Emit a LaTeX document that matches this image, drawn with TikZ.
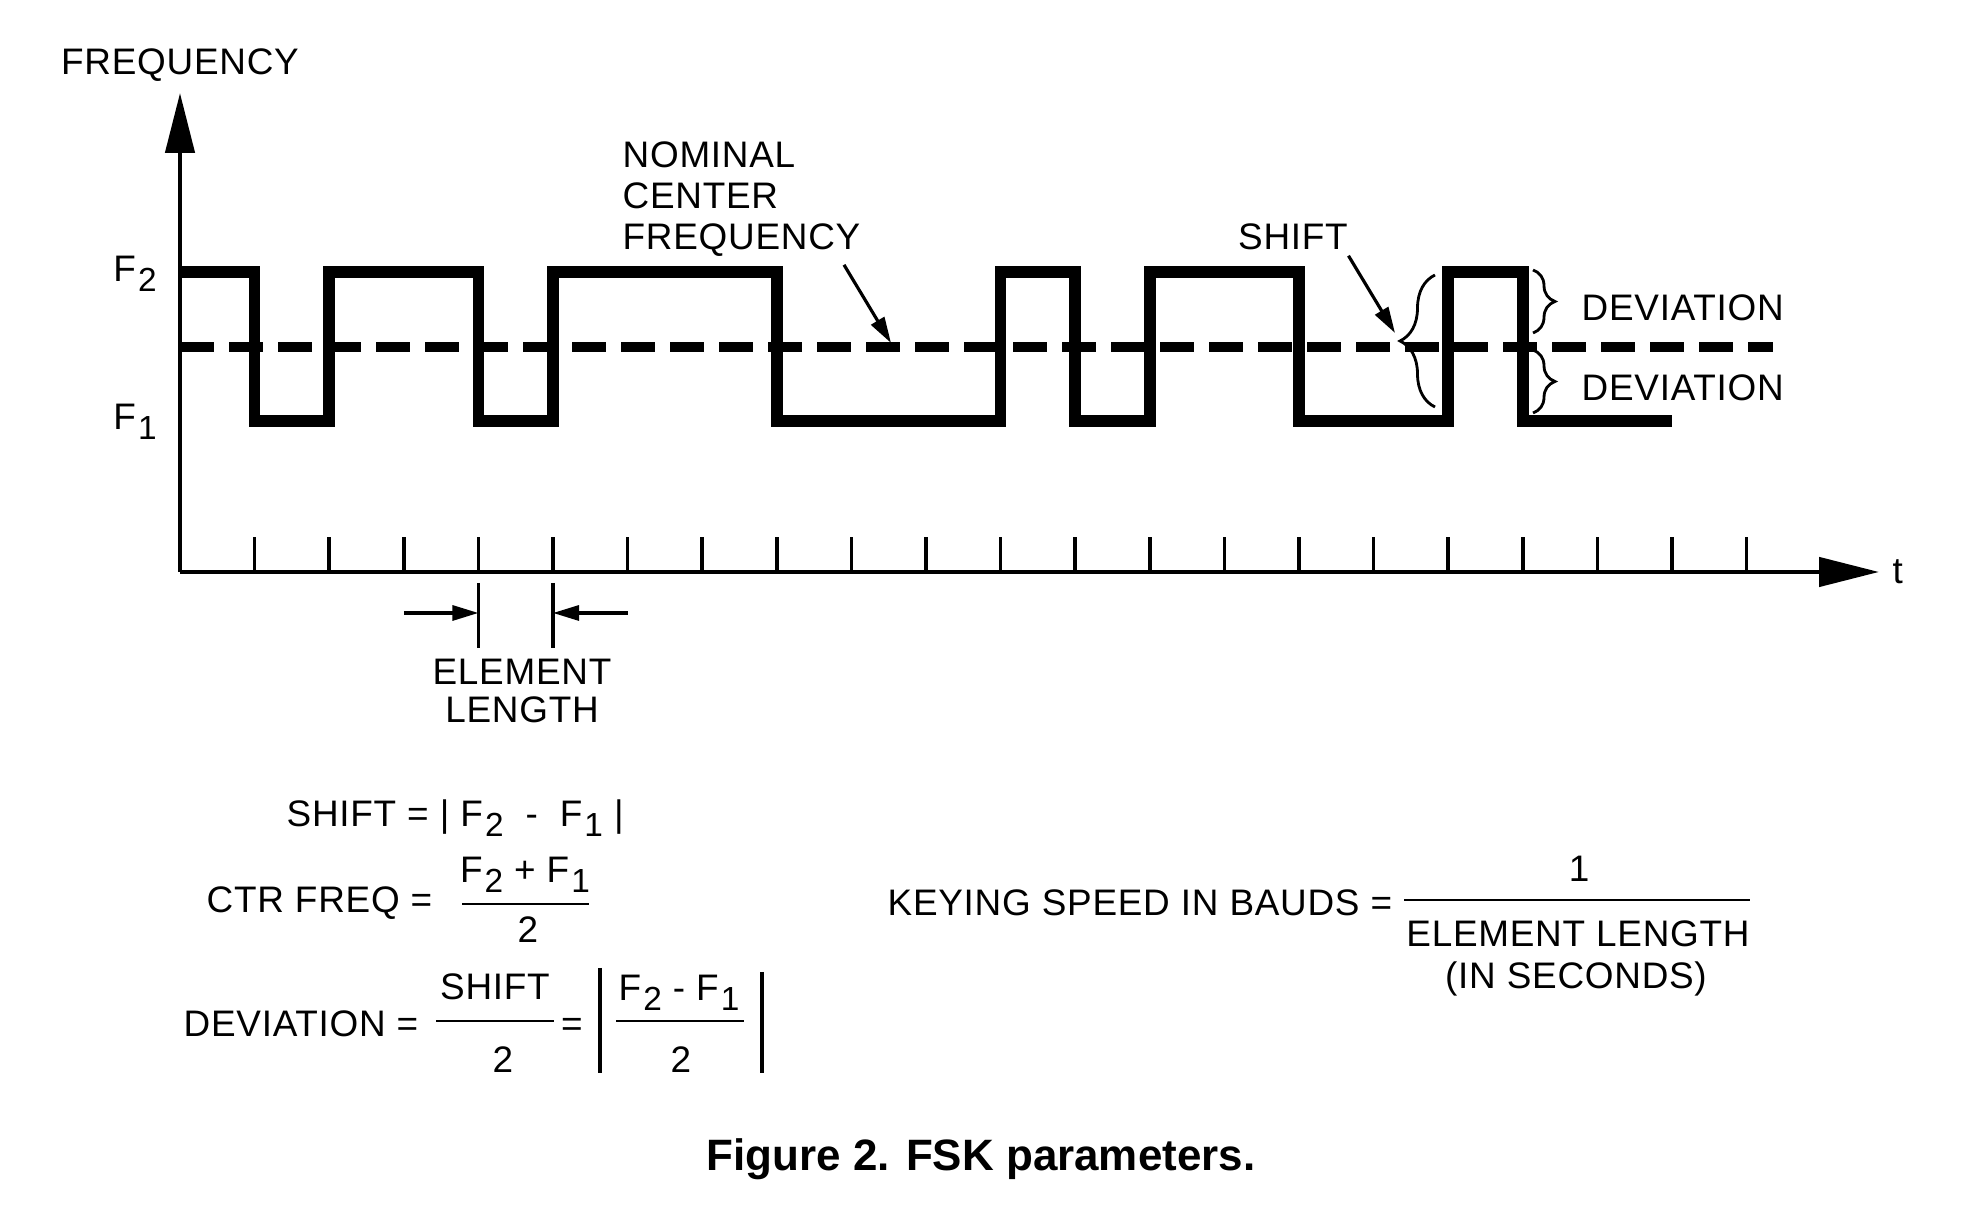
\documentclass[tikz,border=0pt]{standalone}
\usepackage{fontspec}
\setmainfont{Liberation Sans}[LetterSpace=2]
\newfontfamily\capfont{Liberation Sans}
\usetikzlibrary{arrows.meta,decorations.pathreplacing}
\newcommand{\Fsub}[1]{F\kern0.6pt\raisebox{-0.5ex}{\fontsize{9.5}{9.5}\selectfont #1}}

\begin{document}
\begin{tikzpicture}[
  every node/.style={font=\fontsize{10.5}{11.6}\selectfont, inner sep=0pt},
  fskwave/.style={line width=3.3pt},
  midline/.style={line width=2.8pt, dash pattern=on 3.4mm off 1.5mm},
  axisline/.style={line width=1.3pt, -{Triangle[length=6mm,width=2.9mm]}},
  tickmark/.style={line width=1pt},
  pointer/.style={line width=0.9pt, -{Triangle[length=2.6mm,width=1.5mm]}},
  fracbar/.style={line width=0.8pt},
  absbar/.style={line width=0.9pt},
  devbrace/.style={decorate, line width=0.8pt, decoration={brace, amplitude=#1}},
]
\useasboundingbox (0,0) rectangle (19.86,12.16);

% Axes
\coordinate (origin) at (1.80,6.44);
\coordinate (ftop) at (1.80,11.23);
\coordinate (tend) at (18.79,6.44);
\draw[axisline] (origin) -- (ftop);
\draw[axisline] (origin) -- (tend);
\node[anchor=base] (flabel) at (1.80,11.41) {FREQUENCY};
\node[anchor=west] (tlabel) at (18.92,6.44) {t};
\node[anchor=base] (f2) at (1.35,9.34) {\Fsub{2}};
\node[anchor=base] (f1) at (1.35,7.86) {\Fsub{1}};

% Nominal center frequency
\draw[midline] (1.80,8.69) -- (17.73,8.69);

% Keyed signal, one element per tick
\begin{scope}[shift={(origin)}, x=0.746cm]
  \foreach \k in {1,...,21}
    \draw[tickmark] (\k,0) -- (\k,0.35);
  \draw[fskwave] (0,3.00) -| (1,1.51) -| (2,3.00) -| (4,1.51) -| (5,3.00)
    -| (8,1.51) -| (11,3.00) -| (12,1.51) -| (13,3.00) -| (15,1.51)
    -| (17,3.00) -| (18,1.51) -- (20,1.51);
  % element length
  \coordinate (el-a) at (4,-0.41);
  \coordinate (el-b) at (5,-0.41);
  \coordinate (el-a0) at (3,-0.41);
  \coordinate (el-b0) at (6,-0.41);
  \draw[tickmark] (4,-0.11) -- (4,-0.76);
  \draw[tickmark] (5,-0.11) -- (5,-0.76);
  \draw[pointer] (el-a0) -- (el-a);
  \draw[pointer] (el-b0) -- (el-b);
\end{scope}
\node[align=center, font=\fontsize{10.5}{10.8}\selectfont] (ellen) at (5.22,5.25) {ELEMENT\\LENGTH};

% Labels with pointers
\node[anchor=west, align=left] (ncf) at (6.22,10.17) {NOMINAL\\CENTER\\FREQUENCY};
\coordinate (ncf-tip) at (8.91,8.73);
\draw[pointer] ([xshift=-1.7mm,yshift=-0.8mm]ncf.south east) -- (ncf-tip);
\node (shiftlbl) at (12.93,9.79) {SHIFT};
\coordinate (shift-tip) at (13.95,8.83);
\draw[pointer] ([yshift=-0.5mm]shiftlbl.south east) -- (shift-tip);

% Braces
\draw[devbrace=3.5mm] (14.35,8.09) -- (14.35,9.41);
\draw[devbrace=2.2mm] (15.33,9.46) -- (15.33,8.83);
\draw[devbrace=2.2mm] (15.33,8.66) -- (15.33,8.03);
\node[anchor=west] (dev-up) at (15.81,9.08) {DEVIATION};
\node[anchor=west] (dev-lo) at (15.81,8.28) {DEVIATION};

% Formulas
\node[anchor=base west] (shifteq) at (2.86,3.89) {SHIFT = | \Fsub{2} \ - \ \Fsub{1} |};

\node[anchor=base west] (ctr) at (2.06,3.03) {CTR FREQ =};
\node[anchor=base] (ctr-num) at (5.25,3.33) {\Fsub{2} + \Fsub{1}};
\draw[fracbar] (4.62,3.12) -- (5.89,3.12);
\node[anchor=base] (ctr-den) at (5.28,2.73) {2};

\node[anchor=base west] (dev) at (1.83,1.79) {DEVIATION =};
\node[anchor=base] (dev-num) at (4.95,2.16) {SHIFT};
\draw[fracbar] (4.36,1.95) -- (5.54,1.95);
\node[anchor=base] (dev-den) at (5.03,1.43) {2};
\node[anchor=base] (dev-eq) at (5.72,1.79) {=};
\draw[absbar] (6.00,2.48) -- (6.00,1.43);
\node[anchor=base] (abs-num) at (6.79,2.15) {\Fsub{2} - \Fsub{1}};
\draw[fracbar] (6.16,1.95) -- (7.44,1.95);
\node[anchor=base] (abs-den) at (6.81,1.43) {2};
\draw[absbar] (7.62,2.44) -- (7.62,1.43);

\node[anchor=base west] (keying) at (8.87,3.00) {KEYING SPEED IN BAUDS =};
\node[anchor=base] (key-num) at (15.79,3.34) {1};
\draw[fracbar] (14.04,3.16) -- (17.50,3.16);
\node[anchor=base] (key-den) at (15.78,2.69) {ELEMENT LENGTH};
\node[anchor=base] (key-unit) at (15.76,2.27) {(IN SECONDS)};

% Caption
\node[anchor=base, font=\capfont\bfseries\fontsize{12.5}{14}\selectfont] (caption) at (9.81,0.45) {Figure 2. FSK parameters.};

\end{tikzpicture}
\end{document}
